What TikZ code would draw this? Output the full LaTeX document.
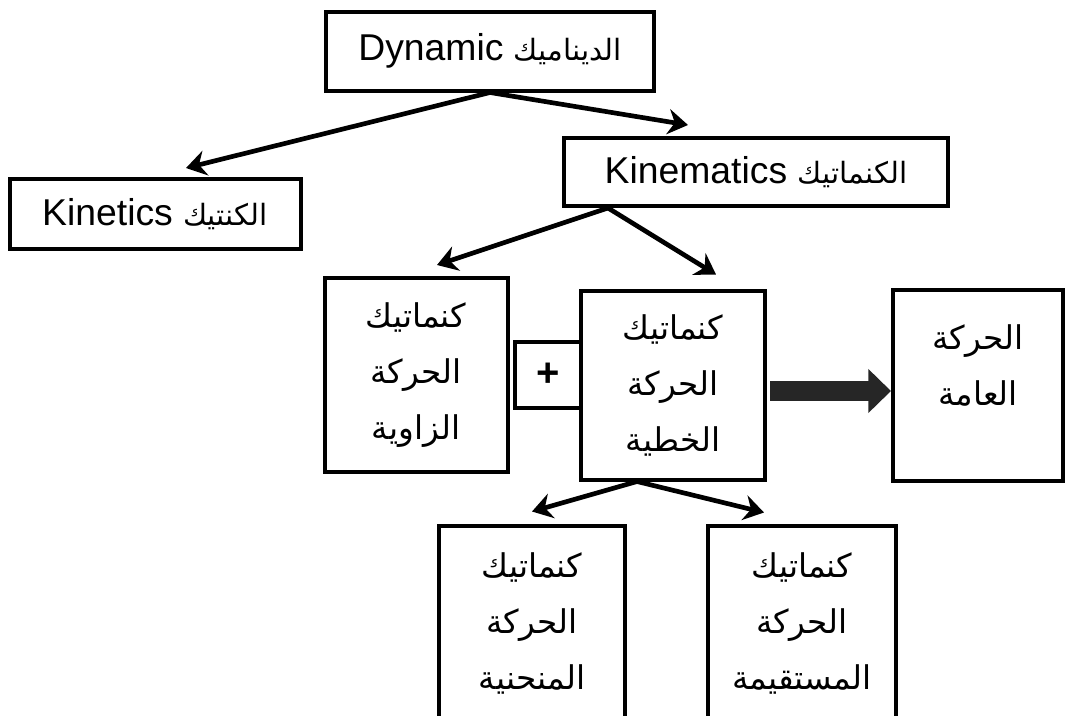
\documentclass[tikz,border=0pt]{standalone}
\usepackage{fontspec}
\setmainfont{Liberation Sans}
\newfontfamily\arabicfont[Script=Arabic]{DejaVu Sans}
\TeXXeTstate=1
\usetikzlibrary{arrows.meta}
\newcommand{\artext}[1]{\beginR #1\endR}

\begin{document}
\begin{tikzpicture}[x=0.75pt,y=0.75pt,yscale=-1,xscale=1,
  box/.style={draw, line width=3pt, inner sep=0pt, align=center, font=\fontsize{28}{34}\selectfont},
  arab/.style={align=center, font=\fontsize{24.5}{42}\arabicfont},
  arr/.style={line width=3.5pt, -{Stealth[length=15pt,width=19pt,inset=5pt]}}]
\useasboundingbox (0,0) rectangle (1079,715);
\clip (0,0) rectangle (1079,715);

%Shape: Rectangle [id:dyn]
\node[box, minimum width=246pt, minimum height=59.25pt] (dyn) at (490,51) {Dynamic {\fontsize{22}{30}\arabicfont\artext{الديناميك}}};
%Shape: Rectangle [id:kin]
\node[box, minimum width=218.25pt, minimum height=52.5pt] (kin) at (155,214) {Kinetics {\fontsize{22}{30}\arabicfont\artext{الكنتيك}}};
%Shape: Rectangle [id:kinem]
\node[box, minimum width=288pt, minimum height=51pt] (kinem) at (756,172) {Kinematics {\fontsize{22}{30}\arabicfont\artext{الكنماتيك}}};

%Shape: Rectangle [id:ang]
\node[box, arab, minimum width=137.25pt, minimum height=145.5pt] (ang) at (416,375) {\artext{كنماتيك}\\\artext{الحركة}\\\artext{الزاوية}};
%Shape: Rectangle [id:lin]
\node[box, arab, minimum width=138pt, minimum height=141.75pt] (lin) at (673,385) {\artext{كنماتيك}\\\artext{الحركة}\\\artext{الخطية}};
%Shape: Rectangle [id:plus]
\node[box, minimum width=49.5pt, minimum height=49.5pt, font=\fontsize{30}{30}\bfseries] (plus) at (548,375) {+};
%Shape: Rectangle [id:gen]
\node[box, minimum width=127.5pt, minimum height=143.25pt] (gen) at (978,385) {};
% Text Node
\node[arab] (gentxt) at (978,365) {\artext{الحركة}\\\artext{العامة}};

%Shape: Rectangle [id:curv]
\node[box, arab, minimum width=139.5pt, minimum height=146.25pt] (curv) at (532,623) {\artext{كنماتيك}\\\artext{الحركة}\\\artext{المنحنية}};
%Shape: Rectangle [id:str]
\node[box, arab, minimum width=141pt, minimum height=146.25pt] (str) at (802,623) {\artext{كنماتيك}\\\artext{الحركة}\\\artext{المستقيمة}};

% Arrows
\draw[arr] (dyn.south) -- ([shift={(31,-9)}]kin.north);
\draw[arr] (dyn.south) -- ([shift={(-68,-11)}]kinem.north);
\draw[arr] ([shift={(46,0)}]kinem.south west) -- ([shift={(21,-11)}]ang.north);
\draw[arr] ([shift={(46,0)}]kinem.south west) -- ([shift={(43,-14)}]lin.north);
\draw[arr] ([shift={(-36,0)}]lin.south) -- ([shift={(0,-12)}]curv.north);
\draw[arr] ([shift={(-36,0)}]lin.south) -- ([shift={(-38,-11)}]str.north);
\draw[line width=15pt, black!85, -{Triangle[length=17pt,width=32pt]}] ([shift={(3,6)}]lin.east) -- ([shift={(0,6)}]gen.west);

\end{tikzpicture}
\end{document}
